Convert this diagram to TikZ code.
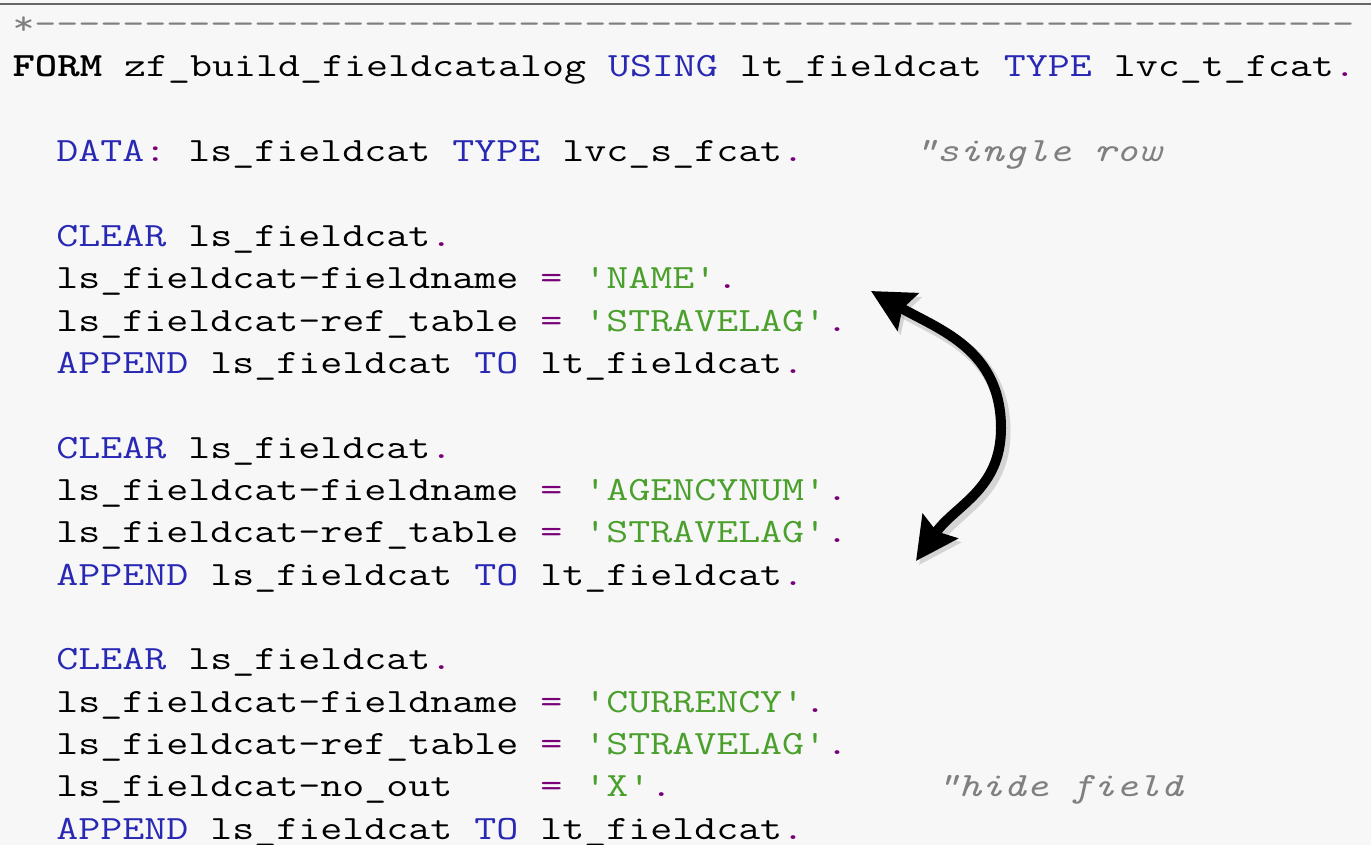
\documentclass[tikz,border=0pt]{standalone}
\usepackage{tikz}
\usetikzlibrary{arrows.meta}
\usepackage{xcolor}

\definecolor{abapkw}{RGB}{40,40,180}
\definecolor{abaplit}{RGB}{75,160,45}
\definecolor{abappun}{RGB}{120,0,120}
\definecolor{abapcmt}{RGB}{128,128,128}
\definecolor{editorbg}{RGB}{247,247,247}

\newcommand{\kw}[1]{\textcolor{abapkw}{#1}}
\newcommand{\lit}[1]{\textcolor{abaplit}{#1}}
\newcommand{\pun}[1]{\textcolor{abappun}{#1}}
\newcommand{\cmt}[1]{\textcolor{abapcmt}{\itshape #1}}

\begin{document}
\begin{tikzpicture}[x=0.5pt, y=-0.5pt,
    codeline/.style={anchor=base west, inner sep=0pt, xscale=1.256,
        font=\ttfamily\fontsize{17}{17}\selectfont},
    swaparrow/.style={line width=5pt, {Stealth[length=21pt,width=21pt,inset=3pt]}-{Stealth[length=21pt,width=21pt,inset=3pt]}},
    arrowshadow/.style={swaparrow, draw=black!30, opacity=.5, line width=6.5pt,
        transform canvas={xshift=1.5pt, yshift=-2pt}}]

% Editor background
\clip (0,0) rectangle (1371,845);
\fill[editorbg] (0,0) rectangle (1371,845);
\draw[black!60, line width=1pt] (0,4) -- (1371,4);

% Nodes
\node[codeline, text=abapcmt] (sepline) at (12,34.6)
    {*\foreach \i in {1,...,60}{-\kern0pt}};
\node[codeline] (form) at (12,77)
    {\textbf{FORM} zf\_build\_fieldcatalog \kw{USING} lt\_fieldcat \kw{TYPE} lvc\_t\_fcat\pun{.}};
\node[codeline] (data) at (12,161.7)
    {~~\kw{DATA}\pun{:} ls\_fieldcat \kw{TYPE} lvc\_s\_fcat\pun{.}~~~~~\cmt{"single row}};

\node[codeline] (clearname) at (12,246.4) {~~\kw{CLEAR} ls\_fieldcat\pun{.}};
\node[codeline] (fieldname) at (12,288.75)
    {~~ls\_fieldcat-fieldname \pun{=} \lit{'NAME'}\pun{.}};
\node[codeline] (reftabname) at (12,331.1)
    {~~ls\_fieldcat-ref\_table \pun{=} \lit{'STRAVELAG'}\pun{.}};
\node[codeline] (appendname) at (12,373.45)
    {~~\kw{APPEND} ls\_fieldcat \kw{TO} lt\_fieldcat\pun{.}};

\node[codeline] (clearagency) at (12,458.15) {~~\kw{CLEAR} ls\_fieldcat\pun{.}};
\node[codeline] (fieldagency) at (12,500.5)
    {~~ls\_fieldcat-fieldname \pun{=} \lit{'AGENCYNUM'}\pun{.}};
\node[codeline] (reftabagency) at (12,542.85)
    {~~ls\_fieldcat-ref\_table \pun{=} \lit{'STRAVELAG'}\pun{.}};
\node[codeline] (appendagency) at (12,585.2)
    {~~\kw{APPEND} ls\_fieldcat \kw{TO} lt\_fieldcat\pun{.}};

\node[codeline] (clearcurr) at (12,669.9) {~~\kw{CLEAR} ls\_fieldcat\pun{.}};
\node[codeline] (fieldcurr) at (12,712.25)
    {~~ls\_fieldcat-fieldname \pun{=} \lit{'CURRENCY'}\pun{.}};
\node[codeline] (reftabcurr) at (12,754.6)
    {~~ls\_fieldcat-ref\_table \pun{=} \lit{'STRAVELAG'}\pun{.}};
\node[codeline] (noout) at (12,796.95)
    {~~ls\_fieldcat-no\_out~~~~\pun{=} \lit{'X'}\pun{.}~~~~~~~~~~~~\cmt{"hide field}};
\node[codeline] (appendcurr) at (12,839.3)
    {~~\kw{APPEND} ls\_fieldcat \kw{TO} lt\_fieldcat\pun{.}};

% Swap arrow between the NAME and AGENCYNUM blocks
\coordinate (nametip) at (871,291);
\coordinate (agencytip) at (916,561);
\draw[arrowshadow] (nametip) .. controls (940,330) and (1001,350) .. (1001,428)
    .. controls (1001,490) and (955,505) .. (agencytip);
\draw[swaparrow] (nametip) .. controls (940,330) and (1001,350) .. (1001,428)
    .. controls (1001,490) and (955,505) .. (agencytip);

\end{tikzpicture}
\end{document}
